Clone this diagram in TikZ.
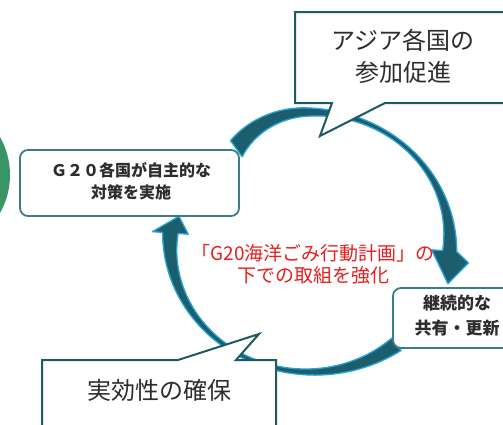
\documentclass[tikz,border=0pt]{standalone}
\usepackage{fontspec}
\setmainfont{Noto Sans CJK JP}
\definecolor{arrowteal}{RGB}{28,94,110}
\definecolor{arrowglow}{RGB}{40,165,215}
\definecolor{boxedge}{RGB}{58,125,134}
\definecolor{calloutedge}{RGB}{30,90,98}
\definecolor{txtgray}{RGB}{45,45,45}
\definecolor{redtxt}{RGB}{232,30,30}
\definecolor{circgreen}{RGB}{55,150,100}
\tikzset{
  arrowshape/.style={fill=arrowteal, draw=arrowglow, line width=1.3pt, line join=round},
  callout/.style={fill=white, draw=calloutedge, line width=2pt, line join=miter},
  stepbox/.style={fill=white, draw=boxedge, line width=1.8pt, rounded corners=8pt, inner sep=0pt},
  calltext/.style={text=txtgray, align=center, font=\fontsize{24}{32}\selectfont},
  boxtext/.style={text=txtgray, align=center},
}
\begin{document}
\begin{tikzpicture}[x=1pt,y=-1pt,
  declare function={
    wa(\t)=4+50*((124-\t)/128-0.55)^2;
    ka(\t)=13*(max(0,1-4*(124-\t)/128))^2;
    oa(\t)=wa(\t)/2-ka(\t);
    ia(\t)=-wa(\t)/2-ka(\t);
    wb(\t)=4+46*((-52-\t)/132-0.5)^2;
  }]
\clip (0,0) rectangle (503,424);
\fill[white] (0,0) rectangle (503,424);
% green circle at left
\fill[circgreen] (-67,175) circle (77);
% arrow 1 (top, clockwise from box 1 to box 2)
\path[arrowshape]
  plot[domain=126:-4, samples=70] ({310+(140+oa(\x))*cos(\x)},{242-(130+oa(\x))*sin(\x)})
  -- ({310+160*cos(-8)},{242-150*sin(-8)})
  -- ({310+145*cos(-18)},{242-135*sin(-18)})
  -- ({310+122*cos(-4)},{242-112*sin(-4)})
  -- plot[domain=-4:126, samples=70] ({310+(140+ia(\x))*cos(\x)},{242-(130+ia(\x))*sin(\x)})
  -- cycle;
% arrow 2 (bottom and left, from box 2 back to box 1)
\path[arrowshape]
  plot[domain=-52:-184, samples=60] ({310+(140+wb(\x)/2)*cos(\x)},{242-(130+wb(\x)/2)*sin(\x)})
  -- ({310+158*cos(-184)},{242-148*sin(-184)})
  -- ({310+134*cos(-192)},{242-124*sin(-192)})
  -- ({310+122*cos(-184)},{242-112*sin(-184)})
  -- plot[domain=-184:-52, samples=60] ({310+(140-wb(\x)/2)*cos(\x)},{242-(130-wb(\x)/2)*sin(\x)})
  -- cycle;
% boxes
\node[stepbox, minimum width=219pt, minimum height=66pt] (b1) at (129.5,183) {};
\node[boxtext, font=\bfseries\fontsize{16}{22}\selectfont] (b1t) at (131,181) {Ｇ２０各国が自主的な\\対策を実施};
\node[stepbox, minimum width=127pt, minimum height=60pt] (b2) at (456.5,318) {};
\node[boxtext, font=\bfseries\fontsize{17}{25}\selectfont] (b2t) at (457,315.5) {継続的な\\共有・更新};
% centre text
\node[text=redtxt, align=center, font=\fontsize{19}{22}\selectfont] (ct) at (313,264) {「G20海洋ごみ行動計画」の\\下での取組を強化};
% callouts
\path[callout] (295,12) -- (515,12) -- (515,103) -- (385,103) -- (320,136) -- (332,103) -- (295,103) -- cycle;
\node[calltext] (c1) at (403,56) {アジア各国の\\参加促進};
\path[callout] (42,360) -- (178,360) -- (259,334) -- (236,360) -- (276,360) -- (276,440) -- (42,440) -- cycle;
\node[calltext] (c2) at (159,390) {実効性の確保};
\end{tikzpicture}
\end{document}
